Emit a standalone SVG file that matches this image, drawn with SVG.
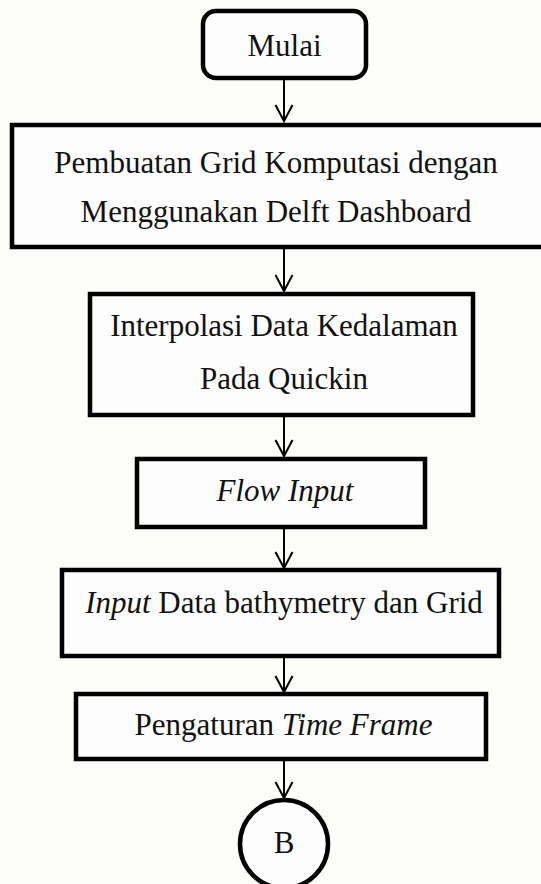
<svg xmlns="http://www.w3.org/2000/svg" width="541" height="884" viewBox="0 0 541 884">
<style>
.box{fill:#fdfdfd;stroke:#000;stroke-width:4.5}
.t{font-family:"Liberation Serif","Times New Roman",serif;font-size:31px;fill:#111;text-anchor:middle}
.i{font-style:italic}
.c{stroke:#000;stroke-width:2;fill:none}
</style>
<defs>
<marker id="ah" markerUnits="userSpaceOnUse" markerWidth="24" markerHeight="24" viewBox="-18 -12 24 24" refX="0" refY="0" orient="auto">
<path d="M-16,-8.5 L0,0 L-16,8.5" fill="none" stroke="#000" stroke-width="2"/>
</marker>
</defs>
<rect width="541" height="884" fill="#fcfcf8"/>
<g id="connectors">
<line class="c" x1="284" y1="80" x2="284" y2="121" marker-end="url(#ah)"/>
<line class="c" x1="284" y1="248" x2="284" y2="291" marker-end="url(#ah)"/>
<line class="c" x1="284" y1="417" x2="284" y2="456" marker-end="url(#ah)"/>
<line class="c" x1="284" y1="529" x2="284" y2="568" marker-end="url(#ah)"/>
<line class="c" x1="284" y1="658" x2="284" y2="692" marker-end="url(#ah)"/>
<line class="c" x1="284" y1="761" x2="284" y2="798" marker-end="url(#ah)"/>
</g>
<g id="mulai">
<rect class="box" x="203" y="11" width="163" height="67" rx="13"/>
<text class="t" x="284.5" y="56">Mulai</text>
</g>
<g id="grid">
<rect class="box" x="12" y="125" width="540" height="122"/>
<text class="t" x="276" y="173">Pembuatan Grid Komputasi dengan</text>
<text class="t" x="276" y="222">Menggunakan Delft Dashboard</text>
</g>
<g id="interpolasi">
<rect class="box" x="90" y="294" width="383" height="121"/>
<text class="t" x="284" y="336">Interpolasi Data Kedalaman</text>
<text class="t" x="284" y="389">Pada Quickin</text>
</g>
<g id="flow">
<rect class="box" x="137" y="459" width="288" height="68"/>
<text class="t i" x="285" y="501">Flow Input</text>
</g>
<g id="input">
<rect class="box" x="62" y="570" width="437" height="86"/>
<text class="t" x="284" y="613"><tspan class="i">Input</tspan> Data bathymetry dan Grid</text>
</g>
<g id="timeframe">
<rect class="box" x="76" y="694" width="410" height="65"/>
<text class="t" x="283.5" y="735">Pengaturan <tspan class="i">Time Frame</tspan></text>
</g>
<g id="b">
<circle cx="284" cy="844" r="44" fill="#fdfdfd" stroke="#000" stroke-width="4.5"/>
<text class="t" x="284" y="853">B</text>
</g>
</svg>
